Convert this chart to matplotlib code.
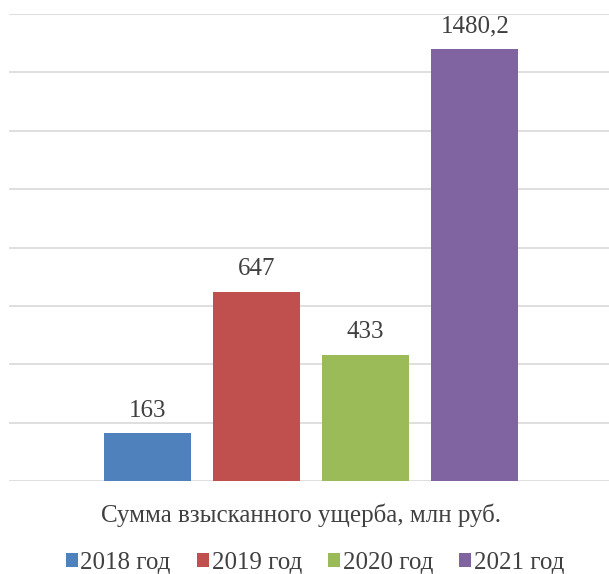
import matplotlib.pyplot as plt
from matplotlib.patches import Patch

years = ["2018 год", "2019 год", "2020 год", "2021 год"]
values = [163, 647, 433, 1480.2]
value_labels = ["163", "647", "433", "1480,2"]
colors = ["#4F81BD", "#C0504D", "#9BBB59", "#8064A2"]

plt.rcParams['font.family'] = ['Liberation Serif', 'DejaVu Serif']

fig = plt.figure(figsize=(6.09, 5.74), dpi=100)
ax = fig.add_axes([9 / 609, 1 - 481 / 574, 600 / 609, (481 - 14) / 574])

pos = list(range(len(years)))
bars = ax.bar(pos, values, width=0.8, color=colors, zorder=3)
for b, lab in zip(bars, value_labels):
    ax.text(b.get_x() + b.get_width() / 2, b.get_height() + 40, lab,
            ha='center', va='bottom', fontsize=18, color='#404040')

ax.set_ylim(0, 1600)
ax.set_xlim(-1.27, 4.23)
ax.set_yticks(range(0, 1601, 200))
ax.yaxis.grid(True, color='#D9D9D9', linewidth=1.2, zorder=0)
ax.set_xticks([])
ax.tick_params(left=False, labelleft=False)
for s in ax.spines.values():
    s.set_visible(False)

fig.text(301 / 609, 1 - 515 / 574, "Сумма взысканного ущерба, млн руб.",
         ha='center', va='center', fontsize=18, color='#404040')

handles = [Patch(facecolor=c, label=y) for c, y in zip(colors, years)]
fig.legend(handles=handles, loc='center', bbox_to_anchor=(315 / 609, 1 - 563 / 574),
           ncol=4, frameon=False, fontsize=18, labelcolor='#404040',
           handlelength=0.48, handleheight=0.48, handletextpad=0.1,
           columnspacing=1.05, borderpad=0)

fig.savefig("out.png")
